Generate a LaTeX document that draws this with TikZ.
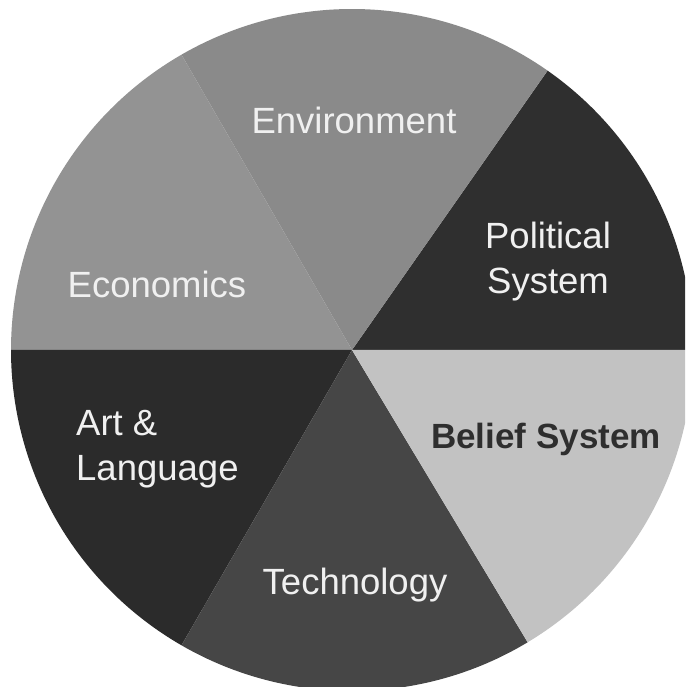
\documentclass[tikz,border=0pt]{standalone}
\usepackage{fontspec}
\setmainfont{Liberation Sans}
\definecolor{econ}{HTML}{939393}
\definecolor{envi}{HTML}{8A8A8A}
\definecolor{poli}{HTML}{2F2F2F}
\definecolor{beli}{HTML}{C2C2C2}
\definecolor{tech}{HTML}{464646}
\definecolor{artl}{HTML}{2B2B2B}
\definecolor{lighttext}{HTML}{F0F0F0}
\definecolor{darktext}{HTML}{2E2E2E}
\tikzset{
  lbl/.style={text=lighttext, font=\fontsize{36.5}{45}\selectfont, inner sep=0pt},
  dlbl/.style={text=darktext, font=\fontsize{35}{44}\selectfont\bfseries, inner sep=0pt}
}
\begin{document}
\begin{tikzpicture}[x=1pt,y=1pt]
\useasboundingbox (0,0) rectangle (685,687);
\fill[white] (0,0) rectangle (685,687);
\begin{scope}
\clip (0,0) rectangle (685,687);
\coordinate (c) at (352,337);
\def\R{341}
\fill[poli] (c) -- ++(0:\R) arc[start angle=0,end angle=55,radius=\R] -- cycle;
\fill[envi] (c) -- ++(55:\R) arc[start angle=55,end angle=120,radius=\R] -- cycle;
\fill[econ] (c) -- ++(120:\R) arc[start angle=120,end angle=180,radius=\R] -- cycle;
\fill[artl] (c) -- ++(180:\R) arc[start angle=180,end angle=240,radius=\R] -- cycle;
\fill[tech] (c) -- ++(240:\R) arc[start angle=240,end angle=301,radius=\R] -- cycle;
\fill[beli] (c) -- ++(301:\R) arc[start angle=301,end angle=360,radius=\R] -- cycle;
\end{scope}
\node[lbl] (env) at (354,567) {Environment};
\node[lbl] (eco) at (157,403) {Economics};
\node[lbl, align=center] (pol) at (548,425) {Political\\System};
\node[lbl, align=left, anchor=west] (art) at (76,238) {Art \&\\Language};
\node[dlbl] (bel) at (546,248) {Belief System};
\node[lbl] (tec) at (355,102) {Technology};
\end{tikzpicture}
\end{document}
